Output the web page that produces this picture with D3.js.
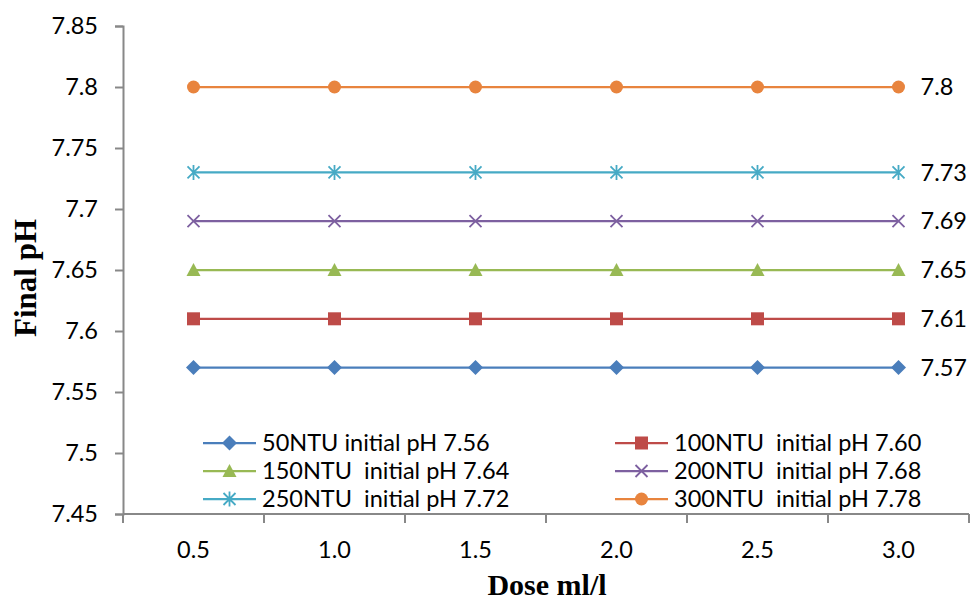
<!DOCTYPE html>
<html>
<head>
<meta charset="utf-8">
<script src="https://cdn.jsdelivr.net/npm/d3@7"></script>
<style>
  body { margin: 0; background: #fff; }
  svg { display: block; }
  text { font-family: Lato, "Open Sans", sans-serif; fill: #000; }
</style>
</head>
<body>
<svg id="chart" width="971" height="603"></svg>
<script>
const doses = ["0.5", "1.0", "1.5", "2.0", "2.5", "3.0"];
const seriesNames = [
    "50NTU initial pH 7.56",
    "100NTU  initial pH 7.60",
    "150NTU  initial pH 7.64",
    "200NTU  initial pH 7.68",
    "250NTU  initial pH 7.72",
    "300NTU  initial pH 7.78"
];
const finalPH = [
    [7.57, 7.57, 7.57, 7.57, 7.57, 7.57],
    [7.61, 7.61, 7.61, 7.61, 7.61, 7.61],
    [7.65, 7.65, 7.65, 7.65, 7.65, 7.65],
    [7.69, 7.69, 7.69, 7.69, 7.69, 7.69],
    [7.73, 7.73, 7.73, 7.73, 7.73, 7.73],
    [7.80, 7.80, 7.80, 7.80, 7.80, 7.80]
];
const endLabels = ["7.57", "7.61", "7.65", "7.69", "7.73", "7.8"];
const yTicks = [7.45, 7.5, 7.55, 7.6, 7.65, 7.7, 7.75, 7.8, 7.85];

const colors = ["#4A7EBB", "#BE4B48", "#98B954", "#7D60A0", "#46AAC5", "#E8843E"];
const shapes = ["diamond", "square", "triangle", "cross", "star", "circle"];

const svg = d3.select("#chart");
const pLeft = 123, pRight = 969, pTop = 26, pBottom = 514;
const fs = "23.5px";

const x = d3.scalePoint().domain(doses).range([pLeft, pRight]).padding(0.5);
const y = d3.scaleLinear().domain([7.45, 7.85]).range([pBottom, pTop]);

// axes
const yAxis = svg.append("g")
    .attr("transform", `translate(${pLeft},0)`)
    .call(d3.axisLeft(y).tickValues(yTicks).tickSize(8).tickPadding(17)
        .tickFormat(d => String(+d.toFixed(2))));
yAxis.selectAll("text").style("font-size", fs);

const step = x.step();
const xTickPos = d3.range(doses.length + 1).map(i => pLeft + i * step);
const xAxis = svg.append("g").attr("transform", `translate(0,${pBottom})`);
xAxis.append("line").attr("x1", pLeft).attr("x2", pRight).attr("y1", 0).attr("y2", 0);
xAxis.selectAll(".tk").data(xTickPos).join("line").attr("class", "tk")
    .attr("x1", d => d).attr("x2", d => d).attr("y1", 0).attr("y2", 9);
xAxis.selectAll(".lb").data(doses).join("text").attr("class", "lb")
    .attr("x", d => x(d)).attr("y", 44)
    .attr("text-anchor", "middle").style("font-size", fs).text(d => d);

svg.selectAll(".domain, .tick line").attr("stroke", "#888").attr("stroke-width", 2);
xAxis.selectAll("line").attr("stroke", "#888").attr("stroke-width", 2);

// axis titles
svg.append("text")
    .attr("transform", "translate(36,278) rotate(-90)")
    .attr("text-anchor", "middle")
    .style("font-family", "'Liberation Serif', 'Times New Roman', serif")
    .style("font-weight", "bold").style("font-size", "31px")
    .text("Final pH");
svg.append("text")
    .attr("x", 547).attr("y", 595)
    .attr("text-anchor", "middle")
    .style("font-family", "'Liberation Serif', 'Times New Roman', serif")
    .style("font-weight", "bold").style("font-size", "30px")
    .text("Dose ml/l");

function marker(g, shape, color) {
    if (shape === "diamond") {
        g.append("path").attr("d", "M0,-7.5L7.5,0L0,7.5L-7.5,0Z").attr("fill", color);
    } else if (shape === "square") {
        g.append("rect").attr("x", -6.5).attr("y", -6.5).attr("width", 13).attr("height", 13).attr("fill", color);
    } else if (shape === "triangle") {
        g.append("path").attr("d", "M0,-7L7,6L-7,6Z").attr("fill", color);
    } else if (shape === "cross") {
        g.append("path").attr("d", "M-6,-6L6,6M-6,6L6,-6").attr("stroke", color).attr("stroke-width", 1.8);
    } else if (shape === "star") {
        g.append("path").attr("d", "M-6,-6L6,6M-6,6L6,-6M0,-7.5V7.5").attr("stroke", color).attr("stroke-width", 1.8);
    } else {
        g.append("circle").attr("r", 6.5).attr("fill", color);
    }
}

const line = d3.line().x((d, i) => x(doses[i])).y(d => y(d));

finalPH.forEach((vals, s) => {
    const g = svg.append("g");
    g.append("path").attr("d", line(vals)).attr("fill", "none")
        .attr("stroke", colors[s]).attr("stroke-width", 2.25);
    vals.forEach((v, i) => {
        const m = g.append("g").attr("transform", `translate(${x(doses[i])},${y(v)})`);
        marker(m, shapes[s], colors[s]);
    });
    g.append("text")
        .attr("x", x(doses[doses.length - 1]) + 22).attr("y", y(vals[vals.length - 1]))
        .attr("dy", "0.35em").style("font-size", fs)
        .text(endLabels[s]);
});

// legend
const legX = [203, 615], legY = [443, 471, 499];
seriesNames.forEach((name, s) => {
    const lx = legX[s % 2], ly = legY[Math.floor(s / 2)];
    const g = svg.append("g").attr("transform", `translate(${lx},${ly})`);
    g.append("line").attr("x1", 0).attr("x2", 53).attr("stroke", colors[s]).attr("stroke-width", 2.25);
    const m = g.append("g").attr("transform", "translate(26.5,0)");
    marker(m, shapes[s], colors[s]);
    g.append("text").attr("x", 59).attr("dy", "0.35em")
        .style("font-size", fs).style("white-space", "pre")
        .text(name);
});
</script>
</body>
</html>
